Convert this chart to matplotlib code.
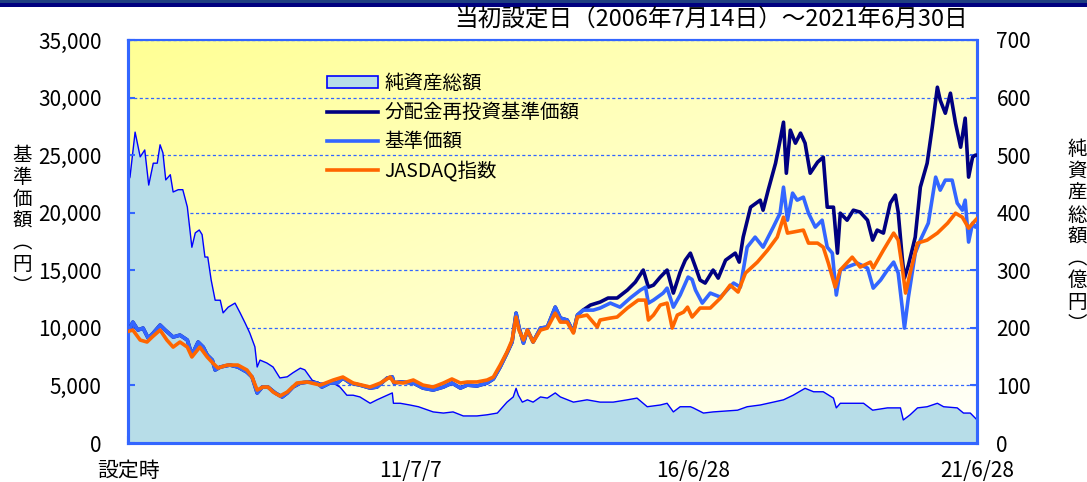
import numpy as np
import matplotlib
matplotlib.use("Agg")
import matplotlib.pyplot as plt
from matplotlib.patches import Rectangle, Patch
from matplotlib.lines import Line2D
from matplotlib.ticker import FuncFormatter

plt.rcParams['font.family'] = ['Noto Sans CJK JP', 'DejaVu Sans']

# ---------------- data (decimal years) ----------------
title_text = "当初設定日（2006年7月14日）～2021年6月30日"
x_tick_years = [2006.535, 2011.513, 2016.489, 2021.488]
x_tick_labels = ["設定時", "11/7/7", "16/6/28", "21/6/28"]
legend_labels = ["純資産総額", "分配金再投資基準価額", "基準価額", "JASDAQ指数"]

# 基準価額 (yen)
nav_years = [2006.54, 2006.57, 2006.62, 2006.71, 2006.80, 2006.89, 2006.98, 2007.10, 2007.19, 2007.33,
             2007.45, 2007.58, 2007.66, 2007.77, 2007.86, 2007.93, 2008.02, 2008.07, 2008.16, 2008.33,
             2008.47, 2008.63, 2008.72, 2008.81, 2008.90, 2009.00, 2009.13, 2009.25, 2009.34, 2009.44,
             2009.57, 2009.71, 2009.87, 2009.95, 2010.09, 2010.22, 2010.32, 2010.45, 2010.62, 2010.80,
             2010.92, 2011.10, 2011.19, 2011.22, 2011.33, 2011.56, 2011.73, 2011.91, 2012.09, 2012.24,
             2012.39, 2012.51, 2012.68, 2012.86, 2012.97, 2013.09, 2013.21, 2013.30, 2013.37, 2013.42,
             2013.50, 2013.57, 2013.67, 2013.80, 2013.92, 2014.06, 2014.15, 2014.27, 2014.38, 2014.45,
             2014.55, 2014.73, 2014.85, 2015.03, 2015.20, 2015.38, 2015.56, 2015.65, 2015.70, 2015.79,
             2015.96, 2016.03, 2016.14, 2016.26, 2016.40, 2016.47, 2016.53, 2016.65, 2016.79, 2016.97,
             2017.20, 2017.32, 2017.44, 2017.58, 2017.72, 2017.90, 2018.02, 2018.08, 2018.15, 2018.24,
             2018.32, 2018.43, 2018.52, 2018.64, 2018.76, 2018.85, 2018.94, 2019.01, 2019.08, 2019.20,
             2019.38, 2019.56, 2019.66, 2019.79, 2019.91, 2020.02, 2020.10, 2020.17, 2020.21, 2020.28,
             2020.40, 2020.49, 2020.63, 2020.76, 2020.84, 2020.93, 2021.05, 2021.14, 2021.23, 2021.28,
             2021.34, 2021.41, 2021.46, 2021.49]
nav_values = [10000, 9980, 10500, 9810, 9980, 9110, 9550, 10240, 9810, 9200,
              9370, 8940, 7640, 8770, 8330, 7640, 7200, 6340, 6600, 6770,
              6600, 6160, 5730, 4340, 4860, 4860, 4340, 4000, 4340, 4860,
              5210, 5300, 5210, 4860, 5210, 5210, 5640, 5210, 5030, 4770,
              4860, 5640, 5730, 5210, 5300, 5210, 4770, 4600, 4860, 5210,
              4770, 5030, 4950, 5210, 5560, 6600, 7810, 8770, 11280, 10070,
              8680, 9810, 8770, 9980, 10070, 11800, 10850, 10680, 9640, 11110,
              11540, 11540, 11720, 12150, 11800, 12590, 13280, 13540, 12150, 12410,
              13020, 13450, 11800, 12850, 14410, 14200, 13280, 12150, 13020, 12670,
              13890, 13540, 17010, 17880, 17010, 18750, 19960, 22220, 19350, 21700,
              21090, 21350, 19960, 18750, 19350, 17010, 16490, 12850, 15020, 15280,
              15620, 15190, 13450, 14150, 15020, 15710, 14760, 11800, 9980, 12670,
              16490, 17620, 19090, 23090, 21960, 22830, 22830, 20830, 20220, 21090,
              17450, 19090, 18750, 18900]

# 分配金再投資基準価額 (yen) - equal to NAV until first distribution
reinv_years = [2006.54, 2006.57, 2006.62, 2006.71, 2006.80, 2006.89, 2006.98, 2007.10, 2007.19, 2007.33,
               2007.45, 2007.58, 2007.66, 2007.77, 2007.86, 2007.93, 2008.02, 2008.07, 2008.16, 2008.33,
               2008.47, 2008.63, 2008.72, 2008.81, 2008.90, 2009.00, 2009.13, 2009.25, 2009.34, 2009.44,
               2009.57, 2009.71, 2009.87, 2009.95, 2010.09, 2010.22, 2010.32, 2010.45, 2010.62, 2010.80,
               2010.92, 2011.10, 2011.19, 2011.22, 2011.33, 2011.56, 2011.73, 2011.91, 2012.09, 2012.24,
               2012.39, 2012.51, 2012.68, 2012.86, 2012.97, 2013.09, 2013.21, 2013.30, 2013.37, 2013.42,
               2013.50, 2013.57, 2013.67, 2013.80, 2013.92, 2014.06, 2014.15, 2014.27, 2014.38, 2014.45,
               2014.55, 2014.68, 2014.85, 2014.99, 2015.15, 2015.33, 2015.47, 2015.61, 2015.70, 2015.79,
               2015.91, 2016.03, 2016.14, 2016.26, 2016.35, 2016.44, 2016.53, 2016.61, 2016.70, 2016.84,
               2016.93, 2017.06, 2017.23, 2017.30, 2017.37, 2017.50, 2017.67, 2017.72, 2017.81, 2017.94,
               2018.02, 2018.08, 2018.13, 2018.20, 2018.29, 2018.38, 2018.46, 2018.55, 2018.68, 2018.78,
               2018.85, 2018.96, 2019.03, 2019.08, 2019.20, 2019.31, 2019.43, 2019.56, 2019.65, 2019.73,
               2019.84, 2019.96, 2020.05, 2020.10, 2020.17, 2020.21, 2020.28, 2020.40, 2020.49, 2020.61,
               2020.70, 2020.79, 2020.84, 2020.93, 2021.02, 2021.11, 2021.20, 2021.28, 2021.34, 2021.41,
               2021.46, 2021.49]
reinv_values = [10000, 9980, 10500, 9810, 9980, 9110, 9550, 10240, 9810, 9200,
                9370, 8940, 7640, 8770, 8330, 7640, 7200, 6340, 6600, 6770,
                6600, 6160, 5730, 4340, 4860, 4860, 4340, 4000, 4340, 4860,
                5210, 5300, 5210, 4860, 5210, 5210, 5640, 5210, 5030, 4770,
                4860, 5640, 5730, 5210, 5300, 5210, 4770, 4600, 4860, 5210,
                4770, 5030, 4950, 5210, 5560, 6600, 7810, 8770, 11280, 10070,
                8680, 9810, 8770, 9980, 10070, 11800, 10850, 10680, 9640, 11110,
                11540, 11980, 12240, 12590, 12590, 13280, 13970, 15020, 13540, 13710,
                14410, 15020, 13020, 14840, 15880, 16490, 15280, 14150, 13890, 15020,
                14320, 15880, 16490, 15710, 17880, 20480, 21090, 20220, 21960, 24300,
                26300, 27860, 23430, 27170, 26040, 26910, 26040, 23430, 24390, 24820,
                20480, 20480, 16490, 19960, 19350, 20220, 20050, 19350, 17620, 18490,
                18230, 20830, 21530, 20050, 16140, 14320, 15450, 17880, 22220, 24300,
                27430, 30900, 29770, 28640, 30380, 27770, 25690, 28210, 23090, 24820,
                25000, 25000]

# JASDAQ指数 (rebased)
jasdaq_years = [2006.54, 2006.62, 2006.75, 2006.87, 2006.96, 2007.10, 2007.22, 2007.33, 2007.45, 2007.58,
                2007.66, 2007.80, 2007.93, 2008.03, 2008.12, 2008.28, 2008.47, 2008.63, 2008.72, 2008.81,
                2008.91, 2009.00, 2009.09, 2009.21, 2009.34, 2009.51, 2009.69, 2009.92, 2010.15, 2010.32,
                2010.50, 2010.80, 2010.98, 2011.15, 2011.21, 2011.38, 2011.56, 2011.73, 2011.91, 2012.09,
                2012.24, 2012.39, 2012.51, 2012.68, 2012.86, 2012.97, 2013.09, 2013.21, 2013.30, 2013.37,
                2013.42, 2013.50, 2013.57, 2013.67, 2013.80, 2013.92, 2014.06, 2014.15, 2014.27, 2014.38,
                2014.45, 2014.62, 2014.80, 2014.85, 2015.03, 2015.15, 2015.33, 2015.52, 2015.65, 2015.70,
                2015.79, 2015.91, 2016.03, 2016.12, 2016.21, 2016.32, 2016.39, 2016.47, 2016.61, 2016.79,
                2016.97, 2017.14, 2017.28, 2017.41, 2017.62, 2017.80, 2017.97, 2018.08, 2018.15, 2018.25,
                2018.43, 2018.52, 2018.68, 2018.78, 2018.87, 2018.99, 2019.08, 2019.29, 2019.43, 2019.61,
                2019.66, 2019.84, 2020.02, 2020.10, 2020.17, 2020.23, 2020.31, 2020.44, 2020.61, 2020.79,
                2020.97, 2021.11, 2021.23, 2021.34, 2021.46, 2021.49]
jasdaq_values = [9700, 9810, 8940, 8770, 9200, 9810, 8940, 8330, 8770, 8330,
                 7470, 8330, 7470, 6940, 6510, 6770, 6770, 6340, 5730, 4600,
                 4860, 4860, 4430, 4080, 4430, 5210, 5300, 5030, 5470, 5730,
                 5210, 4860, 5210, 5730, 5300, 5210, 5470, 5030, 4860, 5210,
                 5560, 5210, 5300, 5300, 5470, 5730, 6770, 7900, 8940, 10940,
                 9810, 8940, 9810, 8770, 9810, 9980, 11280, 10500, 10500, 9550,
                 10940, 11110, 10070, 10680, 10850, 10940, 11720, 12410, 12410, 10680,
                 11110, 11980, 12150, 9980, 11110, 11370, 11800, 10940, 11720, 11720,
                 12590, 13710, 13110, 14760, 15710, 16750, 17880, 19610, 18230, 18320,
                 18490, 17360, 17360, 17010, 15620, 13540, 15020, 16140, 15280, 15710,
                 15200, 16750, 18230, 17620, 15280, 13020, 14760, 17360, 17620, 18230,
                 19090, 19960, 19610, 18660, 19350, 19500]

# 純資産総額 (億円)
aum_years = [2006.54, 2006.57, 2006.66, 2006.75, 2006.83, 2006.90, 2006.98, 2007.05, 2007.10, 2007.15,
             2007.20, 2007.28, 2007.33, 2007.42, 2007.50, 2007.58, 2007.66, 2007.72, 2007.79, 2007.84,
             2007.89, 2007.94, 2008.00, 2008.07, 2008.16, 2008.21, 2008.30, 2008.42, 2008.51, 2008.60,
             2008.68, 2008.77, 2008.81, 2008.86, 2008.98, 2009.09, 2009.21, 2009.34, 2009.44, 2009.57,
             2009.65, 2009.78, 2009.92, 2010.15, 2010.27, 2010.39, 2010.50, 2010.62, 2010.80, 2010.92,
             2011.10, 2011.19, 2011.21, 2011.33, 2011.50, 2011.65, 2011.91, 2012.09, 2012.26, 2012.44,
             2012.68, 2012.86, 2013.04, 2013.21, 2013.32, 2013.37, 2013.41, 2013.48, 2013.57, 2013.67,
             2013.80, 2013.92, 2014.06, 2014.15, 2014.38, 2014.62, 2014.85, 2015.08, 2015.33, 2015.50,
             2015.68, 2015.91, 2016.03, 2016.14, 2016.26, 2016.44, 2016.49, 2016.67, 2016.84, 2017.27,
             2017.44, 2017.67, 2017.90, 2018.08, 2018.25, 2018.46, 2018.61, 2018.78, 2018.96, 2019.01,
             2019.08, 2019.31, 2019.49, 2019.65, 2019.91, 2020.14, 2020.19, 2020.31, 2020.44, 2020.61,
             2020.79, 2020.90, 2021.14, 2021.25, 2021.37, 2021.46, 2021.49]
aum_values = [455, 462, 540, 497, 509, 448, 486, 486, 518, 504,
              457, 466, 436, 440, 440, 410, 340, 365, 370, 362,
              323, 323, 283, 248, 248, 226, 236, 243, 226, 208,
              191, 167, 132, 144, 139, 132, 113, 115, 122, 130,
              127, 109, 104, 104, 97, 83, 83, 80, 69, 75,
              83, 87, 69, 69, 66, 63, 54, 52, 54, 47,
              47, 49, 52, 71, 80, 95, 83, 71, 75, 71,
              80, 78, 87, 80, 71, 75, 71, 71, 75, 78,
              63, 66, 69, 54, 63, 63, 61, 52, 54, 57,
              63, 66, 71, 75, 83, 95, 89, 89, 78, 61,
              69, 69, 69, 57, 61, 61, 40, 49, 61, 63,
              69, 63, 61, 52, 52, 43, 40]

# ---------------- styling ----------------
C_AXIS = '#3366FF'
C_FILL = '#B7DDE8'
C_FILL_EDGE = '#0000FF'
C_REINV = '#000080'
C_NAV = '#3366FF'
C_JASDAQ = '#FF6600'
FS = 15

W, H = 1087, 482
fig = plt.figure(figsize=(W / 100, H / 100), dpi=100)
fig.patch.set_facecolor('white')

# top banner
fig.patches.append(Rectangle((0, 1 - 3 / H), 1, 3 / H, transform=fig.transFigure,
                             facecolor='#1F3F80', edgecolor='none'))
fig.patches.append(Rectangle((0, 1 - 7 / H), 1, 4 / H, transform=fig.transFigure,
                             facecolor='#00007F', edgecolor='none'))

ax = fig.add_axes([128 / W, 39 / H, 849 / W, 403 / H])   # right scale (億円)
ax2 = ax.twinx()                                          # left scale (円)

# gradient background
gy, gx = np.mgrid[0:1:200j, 0:1:400j]
t = np.clip(((1 - gx) + gy) / 2, 0, 1)
yellow = np.array([1.0, 1.0, 0.58])
white = np.array([1.0, 1.0, 0.985])
img = white[None, None, :] * (1 - t[..., None]) + yellow[None, None, :] * t[..., None]
ax.imshow(img, extent=[0, 1, 0, 1], transform=ax.transAxes, origin='lower',
          aspect='auto', zorder=0, interpolation='bilinear')

ax.set_xlim(x_tick_years[0], x_tick_years[-1])
ax.set_ylim(0, 700)
ax2.set_ylim(0, 35000)

ax.set_axisbelow(True)
ax.yaxis.grid(True, color=C_AXIS, linestyle=(0, (2.5, 2)), linewidth=0.9)

# net assets area
ax.fill_between(aum_years, aum_values, 0, facecolor=C_FILL, edgecolor='none', zorder=2)
ax.plot(aum_years, aum_values, color=C_FILL_EDGE, lw=1.0, zorder=3)

# lines
ax2.plot(reinv_years, reinv_values, color=C_REINV, lw=2.6, zorder=3)
ax2.plot(nav_years, nav_values, color=C_NAV, lw=2.6, zorder=4)
ax2.plot(jasdaq_years, jasdaq_values, color=C_JASDAQ, lw=2.6, zorder=5)

# axes / ticks
ax.yaxis.tick_right()
ax2.yaxis.tick_left()
ax.set_yticks(np.arange(0, 701, 100))
ax2.set_yticks(np.arange(0, 35001, 5000))
ax2.yaxis.set_major_formatter(FuncFormatter(lambda v, p: f"{int(v):,}"))
ax.set_xticks(x_tick_years)
ax.set_xticklabels(x_tick_labels)

ax.tick_params(axis='y', direction='in', length=5, width=1.5, color=C_AXIS,
               labelsize=FS, pad=14, right=True, left=False)
ax2.tick_params(axis='y', direction='in', length=5, width=1.5, color=C_AXIS,
                labelsize=FS, pad=19, left=True, right=False)
ax.tick_params(axis='x', direction='in', length=5, width=1.5, color=C_AXIS,
               labelsize=FS, pad=12)

for a in (ax, ax2):
    for s in a.spines.values():
        s.set_color(C_AXIS)
        s.set_linewidth(2.2)
    a.spines['top'].set_linewidth(1.5)

# axis titles (vertical)
fig.text(22 / W, 1 - 221 / H, "基\n準\n価\n額\n︵\n円\n︶", ha='center', va='center',
         fontsize=14, linespacing=1.05)
fig.text(1077 / W, 1 - 237 / H, "純\n資\n産\n総\n額\n︵\n億\n円\n︶", ha='center', va='center',
         fontsize=14, linespacing=1.05)

# title
fig.text(711 / W, 1 - 19 / H, title_text, ha='center', va='center', fontsize=17)

# legend
handles = [Patch(facecolor=C_FILL, edgecolor=C_FILL_EDGE, linewidth=1.2),
           Line2D([], [], color=C_REINV, lw=2.6),
           Line2D([], [], color=C_NAV, lw=2.6),
           Line2D([], [], color=C_JASDAQ, lw=2.6)]
fig.legend(handles, legend_labels, loc='upper left', bbox_to_anchor=(327 / W, 1 - 73 / H),
           frameon=False, fontsize=14, handlelength=2.6, handleheight=0.6,
           handletextpad=0.35, labelspacing=0.42, borderpad=0, borderaxespad=0)

fig.savefig('out.png', dpi=100)
